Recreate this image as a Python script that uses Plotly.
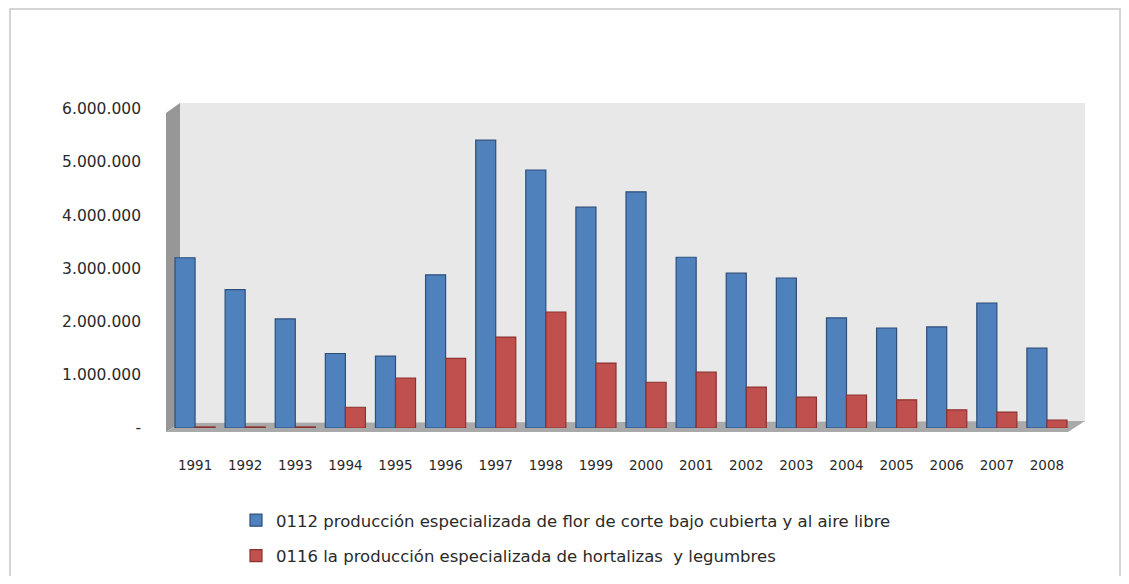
import plotly.graph_objects as go

years = ["1991", "1992", "1993", "1994", "1995", "1996", "1997", "1998", "1999",
         "2000", "2001", "2002", "2003", "2004", "2005", "2006", "2007", "2008"]
flores = [3200000, 2600000, 2050000, 1400000, 1350000, 2880000, 5410000, 4850000, 4150000,
          4440000, 3210000, 2910000, 2820000, 2070000, 1880000, 1900000, 2350000, 1500000]
hortalizas = [20000, 20000, 20000, 390000, 940000, 1310000, 1710000, 2180000, 1220000,
              860000, 1050000, 770000, 580000, 620000, 530000, 340000, 300000, 150000]
name_flores = "0112 producción especializada de flor de corte bajo cubierta y al aire libre"
name_hort = "0116 la producción especializada de hortalizas  y legumbres"
y_tickvals = [0, 1000000, 2000000, 3000000, 4000000, 5000000, 6000000]
y_ticktext = ["-", "1.000.000", "2.000.000", "3.000.000", "4.000.000", "5.000.000", "6.000.000"]

# page coordinates (the page body has an 8px margin on every side)
OFF = 8
W, H = 1129 - 2 * OFF, 584 - 2 * OFF
L, R, T, B = 170, 1072, 102, 428

fig = go.Figure()
fig.add_trace(go.Bar(x=years, y=flores, name=name_flores, legendgroup="a",
                     marker=dict(color="#4f81bd", line=dict(color="#2c4f7c", width=1.2))))
fig.add_trace(go.Bar(x=years, y=hortalizas, name=name_hort, legendgroup="b",
                     marker=dict(color="#c0504d", line=dict(color="#8c3230", width=1.2))))

def px_x(x):
    return (x - L) / (R - L)

def px_y(y):
    return (B - y) / (B - T)

def cont_y(y):
    return 1 - (y - OFF) / H

def poly(pts):
    return "M " + " L ".join(f"{px_x(x):.5f},{px_y(y):.5f}" for x, y in pts) + " Z"

shapes = [
    # outer frame
    dict(type="rect", xref="paper", yref="paper", x0=px_x(10), x1=px_x(1120),
         y0=px_y(600), y1=px_y(9), line=dict(color="#c8c8c8", width=1.5), layer="below"),
    # back wall
    dict(type="path", xref="paper", yref="paper", path=poly([(180, 103), (1085, 103), (1085, 422), (180, 423)]),
         fillcolor="#e8e8e8", line=dict(width=0), layer="below"),
    # left wall
    dict(type="path", xref="paper", yref="paper", path=poly([(166, 113), (180, 103), (180, 423), (166, 432)]),
         fillcolor="#979797", line=dict(width=0), layer="below"),
    # floor
    dict(type="path", xref="paper", yref="paper", path=poly([(180, 423), (1085, 421), (1068, 432), (166, 432)]),
         fillcolor="#a9a9a9", line=dict(width=0), layer="below"),
]

fig.update_layout(
    width=W, height=H,
    margin=dict(l=L - OFF, r=(OFF + W) - R, t=T - OFF, b=(OFF + H) - B),
    paper_bgcolor="white",
    plot_bgcolor="rgba(0,0,0,0)",
    barmode="group",
    bargap=0.2,
    bargroupgap=0.0,
    font=dict(family="DejaVu Sans, Arial", size=13, color="#333333"),
    shapes=shapes,
    showlegend=True,
    legend=dict(x=px_x(236), xanchor="left", yref="container", y=cont_y(503), yanchor="top",
                orientation="v", traceorder="grouped", tracegroupgap=11,
                font=dict(size=16.5, color="#2a2a2a"), bgcolor="rgba(0,0,0,0)",
                itemwidth=30),
)
fig.update_xaxes(showgrid=False, showline=False, ticks="", zeroline=False, automargin=False,
                 tickfont=dict(size=13.5, color="#2a2a2a"), ticklabelstandoff=27)
fig.update_yaxes(range=[0, (B - T) / 53.2 * 1000000], tickvals=y_tickvals, ticktext=y_ticktext,
                 showgrid=False, showline=False, zeroline=False, ticks="", automargin=False,
                 tickfont=dict(size=15.5, color="#2a2a2a"), ticklabelstandoff=28)

fig.write_html("out.html")
